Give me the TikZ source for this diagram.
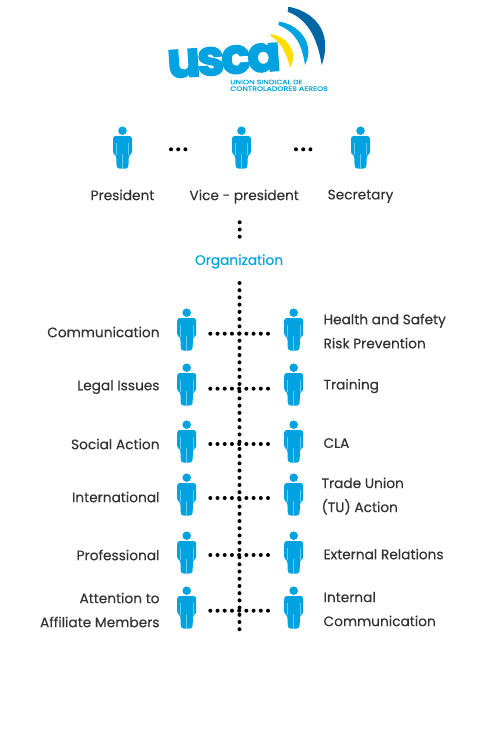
\documentclass[tikz,border=0pt]{standalone}
\usepackage{fontspec}
\setmainfont[FakeBold=0.25]{Poppins}
\newfontfamily\logofont[FakeBold=3,LetterSpace=-7]{Poppins}
\newfontfamily\subfont[FakeStretch=1.25,FakeBold=0.3]{Poppins}
\usepackage{xcolor}
\usetikzlibrary{positioning,decorations.markings}
\definecolor{uscablue}{HTML}{00A3E0}
\definecolor{uscadark}{HTML}{0067A5}
\definecolor{uscayellow}{HTML}{FFDE00}
\definecolor{uscalight}{HTML}{66CDF2}
\definecolor{labelgrey}{HTML}{333333}

\begin{document}
\begin{tikzpicture}[
  x=0.75pt,y=-0.75pt,
  node distance=12.5pt,
  person/.style={minimum width=20*0.75pt,minimum height=42*0.75pt,inner sep=0pt,
    path picture={
      \begin{scope}[shift={(path picture bounding box.center)}]
      \fill[uscablue] (0,-16.8) circle (3.2pt);
      \fill[uscablue,rounded corners=2pt] (-9.5,7) -- (-9.5,-11.5) -- (9.5,-11.5) -- (9.5,7) -- (6.4,7)
        -- (5.8,21) -- (-5.8,21) -- (-6.4,7) -- cycle;
      \draw[uscalight,line width=0.6pt] (-6.3,-5) -- (-6.3,7) (6.3,-5) -- (6.3,7) (0,6) -- (0,21);
      \end{scope}}},
  lab/.style={font=\fontsize{10.3pt}{18pt}\selectfont,text=labelgrey,align=center,inner sep=0pt},
  ll/.style={lab,align=right,yshift=-1.9pt},
  lr/.style={lab,align=left,yshift=-1.2pt},
  dots/.style={decoration={markings,mark=between positions 0 and 1 step 5.41pt with {\fill[black] (0,0) circle (1.5pt);}},decorate}]
\useasboundingbox (0,0) rectangle (481,746);
% logo
\fill[uscadark] (288.3,6.7) .. controls (312,11) and (334,30) .. (321.7,65)
  .. controls (318,42) and (310,20) .. (287.7,11.7) -- cycle;
\fill[uscablue] (279,21.7) .. controls (298,24) and (316,43) .. (305,65)
  .. controls (302,45) and (296,32) .. (278.3,25) -- cycle;
\fill[uscayellow] (270.7,34) .. controls (284,35) and (300,50) .. (290,68)
  .. controls (287,55) and (282,43) .. (270.7,36) -- cycle;
\node[inner sep=0pt,rotate=4,text=uscablue] (logo) at (224,60.5)
  {\fontsize{37pt}{37pt}\logofont\bfseries usca};
\node[inner sep=0pt,text=uscablue,align=left,anchor=north west,
  font=\fontsize{4.7pt}{5pt}\subfont] (logosub) at (230,79.5)
  {UNION SINDICAL DE\\CONTROLADORES AEREOS};
% board
\node[person] (pres) at (122.5,147.5) {};
\node[person] (vice) at (241.5,147.5) {};
\node[person] (secr) at (360.5,147.5) {};
\node[lab,below=15.5pt of pres] (lpres) {President};
\node[lab,below=15.5pt of vice,xshift=2pt] (lvice) {Vice - president};
\node[lab,below=15.5pt of secr] (lsecr) {Secretary};
\coordinate (d1) at (171,149.3);
\coordinate (d2) at (186.5,149.3);
\coordinate (d3) at (296,149.3);
\coordinate (d4) at (311.5,149.3);
\draw[dots] (d1)--(d2);
\draw[dots] (d3)--(d4);
\node[lab,text=uscablue] (org) at (239,261.5) {Organization};
\coordinate (d5) at (239.7,222.3);
\coordinate (d6) at (239.7,237.5);
\draw[dots] (d5)--(d6);
% committee
\node[person] (a1) at (186.7,329.5) {};
\node[person] (a2) at (186.7,384.5) {};
\node[person] (a3) at (186.7,441.5) {};
\node[person] (a4) at (186.7,494.5) {};
\node[person] (a5) at (186.7,552.5) {};
\node[person] (a6) at (186.7,607.5) {};
\node[person] (b1) at (293.7,329.5) {};
\node[person] (b2) at (293.7,384.5) {};
\node[person] (b3) at (293.7,441.5) {};
\node[person] (b4) at (293.7,494.5) {};
\node[person] (b5) at (293.7,552.5) {};
\node[person] (b6) at (293.7,607.5) {};
\node[ll,left=of a1] (la1) {Communication};
\node[ll,left=of a2] (la2) {Legal Issues};
\node[ll,left=of a3] (la3) {Social Action};
\node[ll,left=of a4] (la4) {International};
\node[ll,left=of a5] (la5) {Professional};
\node[ll,left=of a6] (la6) {Attention to\\Affiliate Members};
\node[lr,right=14.5pt of b1] (lb1) {Health and Safety\\Risk Prevention};
\node[lr,right=14.5pt of b2] (lb2) {Training};
\node[lr,right=14.5pt of b3] (lb3) {CLA};
\node[lr,right=13pt of b4] (lb4) {Trade Union\\(TU) Action};
\node[lr,right=14.5pt of b5] (lb5) {External Relations};
\node[lr,right=14.5pt of b6] (lb6) {Internal\\Communication};
\coordinate (top) at (239.5,283);
\coordinate (bot) at (239.5,630);
\draw[dots] (top)--(bot);
\coordinate (c1a) at (210.3,333.7);
\coordinate (c1b) at (269,333.7);
\coordinate (c2a) at (210.3,388.7);
\coordinate (c2b) at (269,388.7);
\coordinate (c3a) at (210.3,444);
\coordinate (c3b) at (269,444);
\coordinate (c4a) at (210.3,498);
\coordinate (c4b) at (269,498);
\coordinate (c5a) at (210.3,555);
\coordinate (c5b) at (269,555);
\coordinate (c6a) at (210.3,610.7);
\coordinate (c6b) at (269,610.7);
\draw[dots] (c1a)--(c1b);
\draw[dots] (c2a)--(c2b);
\draw[dots] (c3a)--(c3b);
\draw[dots] (c4a)--(c4b);
\draw[dots] (c5a)--(c5b);
\draw[dots] (c6a)--(c6b);
\end{tikzpicture}
\end{document}
